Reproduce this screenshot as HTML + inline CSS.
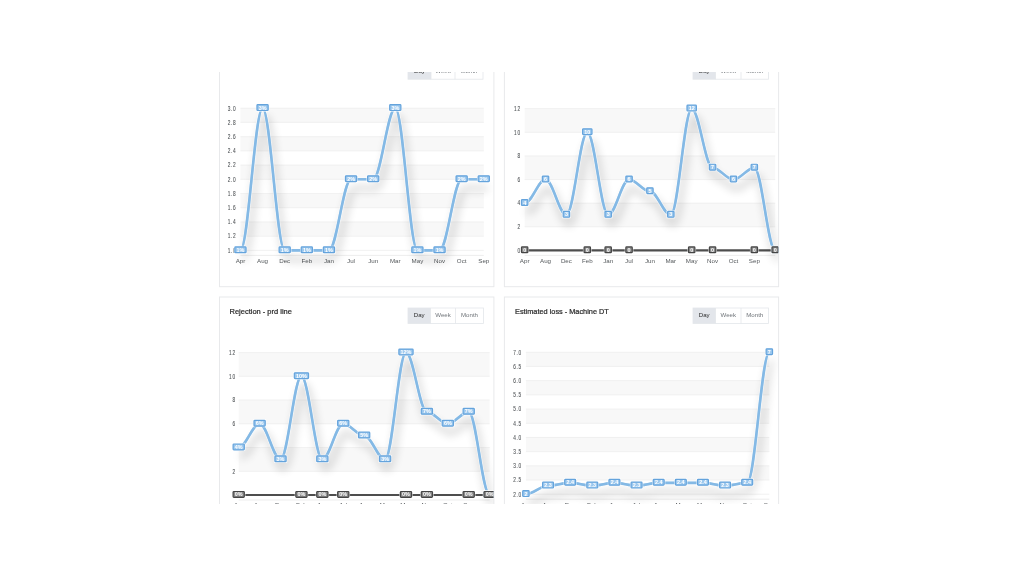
<!DOCTYPE html>
<html><head><meta charset="utf-8"><title>Dashboard charts</title>
<style>
html,body{margin:0;padding:0;background:#fff;width:1024px;height:577px;overflow:hidden}
body{font-family:"Liberation Sans",sans-serif}
svg{position:absolute;left:0;top:0;display:block;filter:blur(0.65px)}
text{font-family:"Liberation Sans",sans-serif}
.yl{font-size:6.6px;letter-spacing:0.9px;fill:#505457;stroke:#505457;stroke-width:0.1px;text-anchor:end}
.xl{font-size:6.2px;fill:#55595c;text-anchor:middle}
.dl{font-size:5.4px;font-weight:bold;fill:#fff;text-anchor:middle}
.bt{font-size:6.1px;text-anchor:middle}
.tt{font-size:7.5px;fill:#2b2b2b;stroke:#2b2b2b;stroke-width:0.22px}
</style></head><body>
<svg width="1024" height="577" viewBox="0 0 1024 577">
<defs>
<clipPath id="clip"><rect x="0" y="72" width="1024" height="432"/></clipPath>
<clipPath id="cL"><rect x="220" y="0" width="273.5" height="577"/></clipPath>
<clipPath id="cR"><rect x="505" y="0" width="273.3" height="577"/></clipPath>
<filter id="sh" filterUnits="userSpaceOnUse" x="0" y="0" width="1024" height="577">
<feGaussianBlur in="SourceAlpha" stdDeviation="5"/>
<feOffset dx="3" dy="9" result="o"/>
<feComponentTransfer><feFuncA type="linear" slope="0.38"/></feComponentTransfer>
<feMerge><feMergeNode/><feMergeNode in="SourceGraphic"/></feMerge>
</filter>
</defs>
<g clip-path="url(#clip)">
<rect x="219.5" y="40.5" width="274.4" height="246.2" fill="#fff" stroke="#e8e9eb" stroke-width="1"/>
<rect x="504.4" y="40.5" width="274.2" height="246.2" fill="#fff" stroke="#e8e9eb" stroke-width="1"/>
<rect x="219.5" y="297.0" width="274.4" height="260.0" fill="#fff" stroke="#e8e9eb" stroke-width="1"/>
<rect x="504.4" y="297.0" width="274.2" height="260.0" fill="#fff" stroke="#e8e9eb" stroke-width="1"/>
<rect x="408.00" y="64.40" width="23.00" height="14.80" fill="#e3e6eb"/>
<rect x="408.00" y="64.40" width="75.00" height="14.80" fill="none" stroke="#e3e6ea" stroke-width="0.8"/>
<line x1="431.00" y1="64.40" x2="431.00" y2="79.20" stroke="#e3e6ea" stroke-width="0.8"/>
<line x1="455.00" y1="64.40" x2="455.00" y2="79.20" stroke="#e3e6ea" stroke-width="0.8"/>
<text x="419.50" y="72.90" class="bt" fill="#2a2a2a">Day</text>
<text x="443.00" y="72.90" class="bt" fill="#70757a">Week</text>
<text x="469.00" y="72.90" class="bt" fill="#70757a">Month</text>
<rect x="693.00" y="64.40" width="22.50" height="14.80" fill="#e3e6eb"/>
<rect x="693.00" y="64.40" width="75.50" height="14.80" fill="none" stroke="#e3e6ea" stroke-width="0.8"/>
<line x1="715.50" y1="64.40" x2="715.50" y2="79.20" stroke="#e3e6ea" stroke-width="0.8"/>
<line x1="741.00" y1="64.40" x2="741.00" y2="79.20" stroke="#e3e6ea" stroke-width="0.8"/>
<text x="704.25" y="72.90" class="bt" fill="#2a2a2a">Day</text>
<text x="728.25" y="72.90" class="bt" fill="#70757a">Week</text>
<text x="754.75" y="72.90" class="bt" fill="#70757a">Month</text>
<rect x="408.00" y="308.00" width="22.50" height="15.50" fill="#e3e6eb"/>
<rect x="408.00" y="308.00" width="75.50" height="15.50" fill="none" stroke="#e3e6ea" stroke-width="0.8"/>
<line x1="430.50" y1="308.00" x2="430.50" y2="323.50" stroke="#e3e6ea" stroke-width="0.8"/>
<line x1="455.50" y1="308.00" x2="455.50" y2="323.50" stroke="#e3e6ea" stroke-width="0.8"/>
<text x="419.25" y="316.85" class="bt" fill="#2a2a2a">Day</text>
<text x="443.00" y="316.85" class="bt" fill="#70757a">Week</text>
<text x="469.50" y="316.85" class="bt" fill="#70757a">Month</text>
<rect x="693.00" y="308.00" width="22.50" height="15.50" fill="#e3e6eb"/>
<rect x="693.00" y="308.00" width="75.50" height="15.50" fill="none" stroke="#e3e6ea" stroke-width="0.8"/>
<line x1="715.50" y1="308.00" x2="715.50" y2="323.50" stroke="#e3e6ea" stroke-width="0.8"/>
<line x1="741.00" y1="308.00" x2="741.00" y2="323.50" stroke="#e3e6ea" stroke-width="0.8"/>
<text x="704.25" y="316.85" class="bt" fill="#2a2a2a">Day</text>
<text x="728.25" y="316.85" class="bt" fill="#70757a">Week</text>
<text x="754.75" y="316.85" class="bt" fill="#70757a">Month</text>
<text x="229.5" y="313.9" class="tt" textLength="62.4" lengthAdjust="spacingAndGlyphs">Rejection - prd line</text>
<text x="515" y="314.2" class="tt" textLength="93.8" lengthAdjust="spacingAndGlyphs">Estimated loss - Machine DT</text>
<g clip-path="url(#cL)">
<rect x="240.45" y="108.20" width="243.32" height="14.22" fill="#f8f8f8"/>
<rect x="240.45" y="136.64" width="243.32" height="14.22" fill="#f8f8f8"/>
<rect x="240.45" y="165.08" width="243.32" height="14.22" fill="#f8f8f8"/>
<rect x="240.45" y="193.52" width="243.32" height="14.22" fill="#f8f8f8"/>
<rect x="240.45" y="221.96" width="243.32" height="14.22" fill="#f8f8f8"/>
<line x1="240.45" y1="108.20" x2="483.77" y2="108.20" stroke="#eeeeee" stroke-width="0.8"/>
<line x1="240.45" y1="122.42" x2="483.77" y2="122.42" stroke="#eeeeee" stroke-width="0.8"/>
<line x1="240.45" y1="136.64" x2="483.77" y2="136.64" stroke="#eeeeee" stroke-width="0.8"/>
<line x1="240.45" y1="150.86" x2="483.77" y2="150.86" stroke="#eeeeee" stroke-width="0.8"/>
<line x1="240.45" y1="165.08" x2="483.77" y2="165.08" stroke="#eeeeee" stroke-width="0.8"/>
<line x1="240.45" y1="179.30" x2="483.77" y2="179.30" stroke="#eeeeee" stroke-width="0.8"/>
<line x1="240.45" y1="193.52" x2="483.77" y2="193.52" stroke="#eeeeee" stroke-width="0.8"/>
<line x1="240.45" y1="207.74" x2="483.77" y2="207.74" stroke="#eeeeee" stroke-width="0.8"/>
<line x1="240.45" y1="221.96" x2="483.77" y2="221.96" stroke="#eeeeee" stroke-width="0.8"/>
<line x1="240.45" y1="236.18" x2="483.77" y2="236.18" stroke="#eeeeee" stroke-width="0.8"/>
<line x1="240.45" y1="250.40" x2="483.77" y2="250.40" stroke="#eeeeee" stroke-width="0.8"/>
<text transform="translate(236.30 110.50) scale(0.72 1)" class="yl">3.0</text>
<text transform="translate(236.30 124.72) scale(0.72 1)" class="yl">2.8</text>
<text transform="translate(236.30 138.94) scale(0.72 1)" class="yl">2.6</text>
<text transform="translate(236.30 153.16) scale(0.72 1)" class="yl">2.4</text>
<text transform="translate(236.30 167.38) scale(0.72 1)" class="yl">2.2</text>
<text transform="translate(236.30 181.60) scale(0.72 1)" class="yl">2.0</text>
<text transform="translate(236.30 195.82) scale(0.72 1)" class="yl">1.8</text>
<text transform="translate(236.30 210.04) scale(0.72 1)" class="yl">1.6</text>
<text transform="translate(236.30 224.26) scale(0.72 1)" class="yl">1.4</text>
<text transform="translate(236.30 238.48) scale(0.72 1)" class="yl">1.2</text>
<text transform="translate(236.30 252.70) scale(0.72 1)" class="yl">1.0</text>
<text x="240.45" y="263.00" class="xl">Apr</text>
<text x="262.57" y="263.00" class="xl">Aug</text>
<text x="284.69" y="263.00" class="xl">Dec</text>
<text x="306.81" y="263.00" class="xl">Feb</text>
<text x="328.93" y="263.00" class="xl">Jan</text>
<text x="351.05" y="263.00" class="xl">Jul</text>
<text x="373.17" y="263.00" class="xl">Jun</text>
<text x="395.29" y="263.00" class="xl">Mar</text>
<text x="417.41" y="263.00" class="xl">May</text>
<text x="439.53" y="263.00" class="xl">Nov</text>
<text x="461.65" y="263.00" class="xl">Oct</text>
<text x="483.77" y="263.00" class="xl">Sep</text>
<path d="M240.45 255.40 H483.77" stroke="#e8e8e8" stroke-width="0.8" fill="none"/>
<g filter="url(#sh)"><path d="M240.45 250.40 C248.19 250.40 254.83 108.20 262.57 108.20 C270.31 108.20 276.95 250.40 284.69 250.40 C292.43 250.40 299.07 250.40 306.81 250.40 C314.55 250.40 321.19 250.40 328.93 250.40 C336.67 250.40 343.31 179.30 351.05 179.30 C358.79 179.30 365.43 179.30 373.17 179.30 C380.91 179.30 387.55 108.20 395.29 108.20 C403.03 108.20 409.67 250.40 417.41 250.40 C425.15 250.40 431.79 250.40 439.53 250.40 C447.27 250.40 453.91 179.30 461.65 179.30 C469.39 179.30 476.03 179.30 483.77 179.30" stroke="#84b9e5" stroke-width="2.3" fill="none" stroke-linecap="round"/></g>
<path d="M240.45 250.40 C248.19 250.40 254.83 108.20 262.57 108.20 C270.31 108.20 276.95 250.40 284.69 250.40 C292.43 250.40 299.07 250.40 306.81 250.40 C314.55 250.40 321.19 250.40 328.93 250.40 C336.67 250.40 343.31 179.30 351.05 179.30 C358.79 179.30 365.43 179.30 373.17 179.30 C380.91 179.30 387.55 108.20 395.29 108.20 C403.03 108.20 409.67 250.40 417.41 250.40 C425.15 250.40 431.79 250.40 439.53 250.40 C447.27 250.40 453.91 179.30 461.65 179.30 C469.39 179.30 476.03 179.30 483.77 179.30" stroke="#fff" stroke-opacity="0.5" stroke-width="4.2" fill="none" stroke-linecap="round"/>
<path d="M240.45 250.40 C248.19 250.40 254.83 108.20 262.57 108.20 C270.31 108.20 276.95 250.40 284.69 250.40 C292.43 250.40 299.07 250.40 306.81 250.40 C314.55 250.40 321.19 250.40 328.93 250.40 C336.67 250.40 343.31 179.30 351.05 179.30 C358.79 179.30 365.43 179.30 373.17 179.30 C380.91 179.30 387.55 108.20 395.29 108.20 C403.03 108.20 409.67 250.40 417.41 250.40 C425.15 250.40 431.79 250.40 439.53 250.40 C447.27 250.40 453.91 179.30 461.65 179.30 C469.39 179.30 476.03 179.30 483.77 179.30" stroke="#84b9e5" stroke-width="2.6" fill="none" stroke-linecap="round"/>
<rect x="233.65" y="245.70" width="13.60" height="8.20" rx="1" fill="#fff" fill-opacity="0.7"/>
<rect x="234.85" y="246.90" width="11.20" height="5.80" rx="0.8" fill="#9cc8ee" stroke="#64a3dc" stroke-width="1.2"/>
<text x="240.45" y="251.75" class="dl">1%</text>
<rect x="255.77" y="103.50" width="13.60" height="8.20" rx="1" fill="#fff" fill-opacity="0.7"/>
<rect x="256.97" y="104.70" width="11.20" height="5.80" rx="0.8" fill="#9cc8ee" stroke="#64a3dc" stroke-width="1.2"/>
<text x="262.57" y="109.55" class="dl">3%</text>
<rect x="277.89" y="245.70" width="13.60" height="8.20" rx="1" fill="#fff" fill-opacity="0.7"/>
<rect x="279.09" y="246.90" width="11.20" height="5.80" rx="0.8" fill="#9cc8ee" stroke="#64a3dc" stroke-width="1.2"/>
<text x="284.69" y="251.75" class="dl">1%</text>
<rect x="300.01" y="245.70" width="13.60" height="8.20" rx="1" fill="#fff" fill-opacity="0.7"/>
<rect x="301.21" y="246.90" width="11.20" height="5.80" rx="0.8" fill="#9cc8ee" stroke="#64a3dc" stroke-width="1.2"/>
<text x="306.81" y="251.75" class="dl">1%</text>
<rect x="322.13" y="245.70" width="13.60" height="8.20" rx="1" fill="#fff" fill-opacity="0.7"/>
<rect x="323.33" y="246.90" width="11.20" height="5.80" rx="0.8" fill="#9cc8ee" stroke="#64a3dc" stroke-width="1.2"/>
<text x="328.93" y="251.75" class="dl">1%</text>
<rect x="344.25" y="174.60" width="13.60" height="8.20" rx="1" fill="#fff" fill-opacity="0.7"/>
<rect x="345.45" y="175.80" width="11.20" height="5.80" rx="0.8" fill="#9cc8ee" stroke="#64a3dc" stroke-width="1.2"/>
<text x="351.05" y="180.65" class="dl">2%</text>
<rect x="366.37" y="174.60" width="13.60" height="8.20" rx="1" fill="#fff" fill-opacity="0.7"/>
<rect x="367.57" y="175.80" width="11.20" height="5.80" rx="0.8" fill="#9cc8ee" stroke="#64a3dc" stroke-width="1.2"/>
<text x="373.17" y="180.65" class="dl">2%</text>
<rect x="388.49" y="103.50" width="13.60" height="8.20" rx="1" fill="#fff" fill-opacity="0.7"/>
<rect x="389.69" y="104.70" width="11.20" height="5.80" rx="0.8" fill="#9cc8ee" stroke="#64a3dc" stroke-width="1.2"/>
<text x="395.29" y="109.55" class="dl">3%</text>
<rect x="410.61" y="245.70" width="13.60" height="8.20" rx="1" fill="#fff" fill-opacity="0.7"/>
<rect x="411.81" y="246.90" width="11.20" height="5.80" rx="0.8" fill="#9cc8ee" stroke="#64a3dc" stroke-width="1.2"/>
<text x="417.41" y="251.75" class="dl">1%</text>
<rect x="432.73" y="245.70" width="13.60" height="8.20" rx="1" fill="#fff" fill-opacity="0.7"/>
<rect x="433.93" y="246.90" width="11.20" height="5.80" rx="0.8" fill="#9cc8ee" stroke="#64a3dc" stroke-width="1.2"/>
<text x="439.53" y="251.75" class="dl">1%</text>
<rect x="454.85" y="174.60" width="13.60" height="8.20" rx="1" fill="#fff" fill-opacity="0.7"/>
<rect x="456.05" y="175.80" width="11.20" height="5.80" rx="0.8" fill="#9cc8ee" stroke="#64a3dc" stroke-width="1.2"/>
<text x="461.65" y="180.65" class="dl">2%</text>
<rect x="476.97" y="174.60" width="13.60" height="8.20" rx="1" fill="#fff" fill-opacity="0.7"/>
<rect x="478.17" y="175.80" width="11.20" height="5.80" rx="0.8" fill="#9cc8ee" stroke="#64a3dc" stroke-width="1.2"/>
<text x="483.77" y="180.65" class="dl">2%</text>
</g><g clip-path="url(#cR)">
<rect x="524.65" y="108.68" width="250.56" height="23.62" fill="#f8f8f8"/>
<rect x="524.65" y="155.92" width="250.56" height="23.62" fill="#f8f8f8"/>
<rect x="524.65" y="203.16" width="250.56" height="23.62" fill="#f8f8f8"/>
<line x1="524.65" y1="108.68" x2="775.21" y2="108.68" stroke="#eeeeee" stroke-width="0.8"/>
<line x1="524.65" y1="132.30" x2="775.21" y2="132.30" stroke="#eeeeee" stroke-width="0.8"/>
<line x1="524.65" y1="155.92" x2="775.21" y2="155.92" stroke="#eeeeee" stroke-width="0.8"/>
<line x1="524.65" y1="179.54" x2="775.21" y2="179.54" stroke="#eeeeee" stroke-width="0.8"/>
<line x1="524.65" y1="203.16" x2="775.21" y2="203.16" stroke="#eeeeee" stroke-width="0.8"/>
<line x1="524.65" y1="226.78" x2="775.21" y2="226.78" stroke="#eeeeee" stroke-width="0.8"/>
<line x1="524.65" y1="250.40" x2="775.21" y2="250.40" stroke="#eeeeee" stroke-width="0.8"/>
<text transform="translate(520.70 110.98) scale(0.72 1)" class="yl">12</text>
<text transform="translate(520.70 134.60) scale(0.72 1)" class="yl">10</text>
<text transform="translate(520.70 158.22) scale(0.72 1)" class="yl">8</text>
<text transform="translate(520.70 181.84) scale(0.72 1)" class="yl">6</text>
<text transform="translate(520.70 205.46) scale(0.72 1)" class="yl">4</text>
<text transform="translate(520.70 229.08) scale(0.72 1)" class="yl">2</text>
<text transform="translate(520.70 252.70) scale(0.72 1)" class="yl">0</text>
<text x="524.65" y="263.20" class="xl">Apr</text>
<text x="545.53" y="263.20" class="xl">Aug</text>
<text x="566.41" y="263.20" class="xl">Dec</text>
<text x="587.29" y="263.20" class="xl">Feb</text>
<text x="608.17" y="263.20" class="xl">Jan</text>
<text x="629.05" y="263.20" class="xl">Jul</text>
<text x="649.93" y="263.20" class="xl">Jun</text>
<text x="670.81" y="263.20" class="xl">Mar</text>
<text x="691.69" y="263.20" class="xl">May</text>
<text x="712.57" y="263.20" class="xl">Nov</text>
<text x="733.45" y="263.20" class="xl">Oct</text>
<text x="754.33" y="263.20" class="xl">Sep</text>
<path d="M524.65 255.40 H775.21" stroke="#e8e8e8" stroke-width="0.8" fill="none"/>
<path d="M524.65 250.40 H775.21" stroke="#4e4e4e" stroke-width="2.2" fill="none"/>
<g filter="url(#sh)"><path d="M524.65 203.16 C531.96 203.16 538.22 179.54 545.53 179.54 C552.84 179.54 559.10 214.97 566.41 214.97 C573.72 214.97 579.98 132.30 587.29 132.30 C594.60 132.30 600.86 214.97 608.17 214.97 C615.48 214.97 621.74 179.54 629.05 179.54 C636.36 179.54 642.62 191.35 649.93 191.35 C657.24 191.35 663.50 214.97 670.81 214.97 C678.12 214.97 684.38 108.68 691.69 108.68 C699.00 108.68 705.26 167.73 712.57 167.73 C719.88 167.73 726.14 179.54 733.45 179.54 C740.76 179.54 747.02 167.73 754.33 167.73 C761.64 167.73 767.90 250.40 775.21 250.40" stroke="#84b9e5" stroke-width="2.3" fill="none" stroke-linecap="round"/></g>
<path d="M524.65 203.16 C531.96 203.16 538.22 179.54 545.53 179.54 C552.84 179.54 559.10 214.97 566.41 214.97 C573.72 214.97 579.98 132.30 587.29 132.30 C594.60 132.30 600.86 214.97 608.17 214.97 C615.48 214.97 621.74 179.54 629.05 179.54 C636.36 179.54 642.62 191.35 649.93 191.35 C657.24 191.35 663.50 214.97 670.81 214.97 C678.12 214.97 684.38 108.68 691.69 108.68 C699.00 108.68 705.26 167.73 712.57 167.73 C719.88 167.73 726.14 179.54 733.45 179.54 C740.76 179.54 747.02 167.73 754.33 167.73 C761.64 167.73 767.90 250.40 775.21 250.40" stroke="#fff" stroke-opacity="0.5" stroke-width="4.2" fill="none" stroke-linecap="round"/>
<path d="M524.65 203.16 C531.96 203.16 538.22 179.54 545.53 179.54 C552.84 179.54 559.10 214.97 566.41 214.97 C573.72 214.97 579.98 132.30 587.29 132.30 C594.60 132.30 600.86 214.97 608.17 214.97 C615.48 214.97 621.74 179.54 629.05 179.54 C636.36 179.54 642.62 191.35 649.93 191.35 C657.24 191.35 663.50 214.97 670.81 214.97 C678.12 214.97 684.38 108.68 691.69 108.68 C699.00 108.68 705.26 167.73 712.57 167.73 C719.88 167.73 726.14 179.54 733.45 179.54 C740.76 179.54 747.02 167.73 754.33 167.73 C761.64 167.73 767.90 250.40 775.21 250.40" stroke="#84b9e5" stroke-width="2.6" fill="none" stroke-linecap="round"/>
<rect x="520.25" y="198.46" width="8.80" height="8.20" rx="1" fill="#fff" fill-opacity="0.7"/>
<rect x="521.45" y="199.66" width="6.40" height="5.80" rx="0.8" fill="#9cc8ee" stroke="#64a3dc" stroke-width="1.2"/>
<text x="524.65" y="204.51" class="dl">4</text>
<rect x="541.13" y="174.84" width="8.80" height="8.20" rx="1" fill="#fff" fill-opacity="0.7"/>
<rect x="542.33" y="176.04" width="6.40" height="5.80" rx="0.8" fill="#9cc8ee" stroke="#64a3dc" stroke-width="1.2"/>
<text x="545.53" y="180.89" class="dl">6</text>
<rect x="562.01" y="210.27" width="8.80" height="8.20" rx="1" fill="#fff" fill-opacity="0.7"/>
<rect x="563.21" y="211.47" width="6.40" height="5.80" rx="0.8" fill="#9cc8ee" stroke="#64a3dc" stroke-width="1.2"/>
<text x="566.41" y="216.32" class="dl">3</text>
<rect x="581.39" y="127.60" width="11.81" height="8.20" rx="1" fill="#fff" fill-opacity="0.7"/>
<rect x="582.59" y="128.80" width="9.41" height="5.80" rx="0.8" fill="#9cc8ee" stroke="#64a3dc" stroke-width="1.2"/>
<text x="587.29" y="133.65" class="dl">10</text>
<rect x="603.77" y="210.27" width="8.80" height="8.20" rx="1" fill="#fff" fill-opacity="0.7"/>
<rect x="604.97" y="211.47" width="6.40" height="5.80" rx="0.8" fill="#9cc8ee" stroke="#64a3dc" stroke-width="1.2"/>
<text x="608.17" y="216.32" class="dl">3</text>
<rect x="624.65" y="174.84" width="8.80" height="8.20" rx="1" fill="#fff" fill-opacity="0.7"/>
<rect x="625.85" y="176.04" width="6.40" height="5.80" rx="0.8" fill="#9cc8ee" stroke="#64a3dc" stroke-width="1.2"/>
<text x="629.05" y="180.89" class="dl">6</text>
<rect x="645.53" y="186.65" width="8.80" height="8.20" rx="1" fill="#fff" fill-opacity="0.7"/>
<rect x="646.73" y="187.85" width="6.40" height="5.80" rx="0.8" fill="#9cc8ee" stroke="#64a3dc" stroke-width="1.2"/>
<text x="649.93" y="192.70" class="dl">5</text>
<rect x="666.41" y="210.27" width="8.80" height="8.20" rx="1" fill="#fff" fill-opacity="0.7"/>
<rect x="667.61" y="211.47" width="6.40" height="5.80" rx="0.8" fill="#9cc8ee" stroke="#64a3dc" stroke-width="1.2"/>
<text x="670.81" y="216.32" class="dl">3</text>
<rect x="685.79" y="103.98" width="11.81" height="8.20" rx="1" fill="#fff" fill-opacity="0.7"/>
<rect x="686.99" y="105.18" width="9.41" height="5.80" rx="0.8" fill="#9cc8ee" stroke="#64a3dc" stroke-width="1.2"/>
<text x="691.69" y="110.03" class="dl">12</text>
<rect x="708.17" y="163.03" width="8.80" height="8.20" rx="1" fill="#fff" fill-opacity="0.7"/>
<rect x="709.37" y="164.23" width="6.40" height="5.80" rx="0.8" fill="#9cc8ee" stroke="#64a3dc" stroke-width="1.2"/>
<text x="712.57" y="169.08" class="dl">7</text>
<rect x="729.05" y="174.84" width="8.80" height="8.20" rx="1" fill="#fff" fill-opacity="0.7"/>
<rect x="730.25" y="176.04" width="6.40" height="5.80" rx="0.8" fill="#9cc8ee" stroke="#64a3dc" stroke-width="1.2"/>
<text x="733.45" y="180.89" class="dl">6</text>
<rect x="749.93" y="163.03" width="8.80" height="8.20" rx="1" fill="#fff" fill-opacity="0.7"/>
<rect x="751.13" y="164.23" width="6.40" height="5.80" rx="0.8" fill="#9cc8ee" stroke="#64a3dc" stroke-width="1.2"/>
<text x="754.33" y="169.08" class="dl">7</text>
<rect x="770.81" y="245.70" width="8.80" height="8.20" rx="1" fill="#fff" fill-opacity="0.7"/>
<rect x="772.01" y="246.90" width="6.40" height="5.80" rx="0.8" fill="#9cc8ee" stroke="#64a3dc" stroke-width="1.2"/>
<text x="775.21" y="251.75" class="dl">0</text>
<rect x="520.25" y="245.70" width="8.80" height="8.20" rx="1" fill="#fff" fill-opacity="0.7"/>
<rect x="521.45" y="246.90" width="6.40" height="5.80" rx="0.8" fill="#8a8a8a" stroke="#454545" stroke-width="1.2"/>
<text x="524.65" y="251.75" class="dl">0</text>
<rect x="582.89" y="245.70" width="8.80" height="8.20" rx="1" fill="#fff" fill-opacity="0.7"/>
<rect x="584.09" y="246.90" width="6.40" height="5.80" rx="0.8" fill="#8a8a8a" stroke="#454545" stroke-width="1.2"/>
<text x="587.29" y="251.75" class="dl">0</text>
<rect x="603.77" y="245.70" width="8.80" height="8.20" rx="1" fill="#fff" fill-opacity="0.7"/>
<rect x="604.97" y="246.90" width="6.40" height="5.80" rx="0.8" fill="#8a8a8a" stroke="#454545" stroke-width="1.2"/>
<text x="608.17" y="251.75" class="dl">0</text>
<rect x="624.65" y="245.70" width="8.80" height="8.20" rx="1" fill="#fff" fill-opacity="0.7"/>
<rect x="625.85" y="246.90" width="6.40" height="5.80" rx="0.8" fill="#8a8a8a" stroke="#454545" stroke-width="1.2"/>
<text x="629.05" y="251.75" class="dl">0</text>
<rect x="687.29" y="245.70" width="8.80" height="8.20" rx="1" fill="#fff" fill-opacity="0.7"/>
<rect x="688.49" y="246.90" width="6.40" height="5.80" rx="0.8" fill="#8a8a8a" stroke="#454545" stroke-width="1.2"/>
<text x="691.69" y="251.75" class="dl">0</text>
<rect x="708.17" y="245.70" width="8.80" height="8.20" rx="1" fill="#fff" fill-opacity="0.7"/>
<rect x="709.37" y="246.90" width="6.40" height="5.80" rx="0.8" fill="#8a8a8a" stroke="#454545" stroke-width="1.2"/>
<text x="712.57" y="251.75" class="dl">0</text>
<rect x="749.93" y="245.70" width="8.80" height="8.20" rx="1" fill="#fff" fill-opacity="0.7"/>
<rect x="751.13" y="246.90" width="6.40" height="5.80" rx="0.8" fill="#8a8a8a" stroke="#454545" stroke-width="1.2"/>
<text x="754.33" y="251.75" class="dl">0</text>
<rect x="770.81" y="245.70" width="8.80" height="8.20" rx="1" fill="#fff" fill-opacity="0.7"/>
<rect x="772.01" y="246.90" width="6.40" height="5.80" rx="0.8" fill="#8a8a8a" stroke="#454545" stroke-width="1.2"/>
<text x="775.21" y="251.75" class="dl">0</text>
</g><g clip-path="url(#cL)">
<rect x="238.70" y="352.56" width="250.92" height="23.74" fill="#f8f8f8"/>
<rect x="238.70" y="400.04" width="250.92" height="23.74" fill="#f8f8f8"/>
<rect x="238.70" y="447.52" width="250.92" height="23.74" fill="#f8f8f8"/>
<line x1="238.70" y1="352.56" x2="489.62" y2="352.56" stroke="#eeeeee" stroke-width="0.8"/>
<line x1="238.70" y1="376.30" x2="489.62" y2="376.30" stroke="#eeeeee" stroke-width="0.8"/>
<line x1="238.70" y1="400.04" x2="489.62" y2="400.04" stroke="#eeeeee" stroke-width="0.8"/>
<line x1="238.70" y1="423.78" x2="489.62" y2="423.78" stroke="#eeeeee" stroke-width="0.8"/>
<line x1="238.70" y1="447.52" x2="489.62" y2="447.52" stroke="#eeeeee" stroke-width="0.8"/>
<line x1="238.70" y1="471.26" x2="489.62" y2="471.26" stroke="#eeeeee" stroke-width="0.8"/>
<line x1="238.70" y1="495.00" x2="489.62" y2="495.00" stroke="#eeeeee" stroke-width="0.8"/>
<text transform="translate(235.70 354.86) scale(0.72 1)" class="yl">12</text>
<text transform="translate(235.70 378.60) scale(0.72 1)" class="yl">10</text>
<text transform="translate(235.70 402.34) scale(0.72 1)" class="yl">8</text>
<text transform="translate(235.70 426.08) scale(0.72 1)" class="yl">6</text>
<text transform="translate(235.70 473.56) scale(0.72 1)" class="yl">2</text>
<text x="238.70" y="506.80" class="xl">Apr</text>
<text x="259.61" y="506.80" class="xl">Aug</text>
<text x="280.52" y="506.80" class="xl">Dec</text>
<text x="301.43" y="506.80" class="xl">Feb</text>
<text x="322.34" y="506.80" class="xl">Jan</text>
<text x="343.25" y="506.80" class="xl">Jul</text>
<text x="364.16" y="506.80" class="xl">Jun</text>
<text x="385.07" y="506.80" class="xl">Mar</text>
<text x="405.98" y="506.80" class="xl">May</text>
<text x="426.89" y="506.80" class="xl">Nov</text>
<text x="447.80" y="506.80" class="xl">Oct</text>
<text x="468.71" y="506.80" class="xl">Sep</text>
<path d="M238.70 500.00 H489.62" stroke="#e8e8e8" stroke-width="0.8" fill="none"/>
<path d="M238.70 495.00 H489.62" stroke="#4e4e4e" stroke-width="2.2" fill="none"/>
<g filter="url(#sh)"><path d="M238.70 447.52 C246.02 447.52 252.29 423.78 259.61 423.78 C266.93 423.78 273.20 459.39 280.52 459.39 C287.84 459.39 294.11 376.30 301.43 376.30 C308.75 376.30 315.02 459.39 322.34 459.39 C329.66 459.39 335.93 423.78 343.25 423.78 C350.57 423.78 356.84 435.65 364.16 435.65 C371.48 435.65 377.75 459.39 385.07 459.39 C392.39 459.39 398.66 352.56 405.98 352.56 C413.30 352.56 419.57 411.91 426.89 411.91 C434.21 411.91 440.48 423.78 447.80 423.78 C455.12 423.78 461.39 411.91 468.71 411.91 C476.03 411.91 482.30 495.00 489.62 495.00" stroke="#84b9e5" stroke-width="2.3" fill="none" stroke-linecap="round"/></g>
<path d="M238.70 447.52 C246.02 447.52 252.29 423.78 259.61 423.78 C266.93 423.78 273.20 459.39 280.52 459.39 C287.84 459.39 294.11 376.30 301.43 376.30 C308.75 376.30 315.02 459.39 322.34 459.39 C329.66 459.39 335.93 423.78 343.25 423.78 C350.57 423.78 356.84 435.65 364.16 435.65 C371.48 435.65 377.75 459.39 385.07 459.39 C392.39 459.39 398.66 352.56 405.98 352.56 C413.30 352.56 419.57 411.91 426.89 411.91 C434.21 411.91 440.48 423.78 447.80 423.78 C455.12 423.78 461.39 411.91 468.71 411.91 C476.03 411.91 482.30 495.00 489.62 495.00" stroke="#fff" stroke-opacity="0.5" stroke-width="4.2" fill="none" stroke-linecap="round"/>
<path d="M238.70 447.52 C246.02 447.52 252.29 423.78 259.61 423.78 C266.93 423.78 273.20 459.39 280.52 459.39 C287.84 459.39 294.11 376.30 301.43 376.30 C308.75 376.30 315.02 459.39 322.34 459.39 C329.66 459.39 335.93 423.78 343.25 423.78 C350.57 423.78 356.84 435.65 364.16 435.65 C371.48 435.65 377.75 459.39 385.07 459.39 C392.39 459.39 398.66 352.56 405.98 352.56 C413.30 352.56 419.57 411.91 426.89 411.91 C434.21 411.91 440.48 423.78 447.80 423.78 C455.12 423.78 461.39 411.91 468.71 411.91 C476.03 411.91 482.30 495.00 489.62 495.00" stroke="#84b9e5" stroke-width="2.6" fill="none" stroke-linecap="round"/>
<rect x="231.90" y="442.82" width="13.60" height="8.20" rx="1" fill="#fff" fill-opacity="0.7"/>
<rect x="233.10" y="444.02" width="11.20" height="5.80" rx="0.8" fill="#9cc8ee" stroke="#64a3dc" stroke-width="1.2"/>
<text x="238.70" y="448.87" class="dl">4%</text>
<rect x="252.81" y="419.08" width="13.60" height="8.20" rx="1" fill="#fff" fill-opacity="0.7"/>
<rect x="254.01" y="420.28" width="11.20" height="5.80" rx="0.8" fill="#9cc8ee" stroke="#64a3dc" stroke-width="1.2"/>
<text x="259.61" y="425.13" class="dl">6%</text>
<rect x="273.72" y="454.69" width="13.60" height="8.20" rx="1" fill="#fff" fill-opacity="0.7"/>
<rect x="274.92" y="455.89" width="11.20" height="5.80" rx="0.8" fill="#9cc8ee" stroke="#64a3dc" stroke-width="1.2"/>
<text x="280.52" y="460.74" class="dl">3%</text>
<rect x="293.13" y="371.60" width="16.61" height="8.20" rx="1" fill="#fff" fill-opacity="0.7"/>
<rect x="294.33" y="372.80" width="14.21" height="5.80" rx="0.8" fill="#9cc8ee" stroke="#64a3dc" stroke-width="1.2"/>
<text x="301.43" y="377.65" class="dl">10%</text>
<rect x="315.54" y="454.69" width="13.60" height="8.20" rx="1" fill="#fff" fill-opacity="0.7"/>
<rect x="316.74" y="455.89" width="11.20" height="5.80" rx="0.8" fill="#9cc8ee" stroke="#64a3dc" stroke-width="1.2"/>
<text x="322.34" y="460.74" class="dl">3%</text>
<rect x="336.45" y="419.08" width="13.60" height="8.20" rx="1" fill="#fff" fill-opacity="0.7"/>
<rect x="337.65" y="420.28" width="11.20" height="5.80" rx="0.8" fill="#9cc8ee" stroke="#64a3dc" stroke-width="1.2"/>
<text x="343.25" y="425.13" class="dl">6%</text>
<rect x="357.36" y="430.95" width="13.60" height="8.20" rx="1" fill="#fff" fill-opacity="0.7"/>
<rect x="358.56" y="432.15" width="11.20" height="5.80" rx="0.8" fill="#9cc8ee" stroke="#64a3dc" stroke-width="1.2"/>
<text x="364.16" y="437.00" class="dl">5%</text>
<rect x="378.27" y="454.69" width="13.60" height="8.20" rx="1" fill="#fff" fill-opacity="0.7"/>
<rect x="379.47" y="455.89" width="11.20" height="5.80" rx="0.8" fill="#9cc8ee" stroke="#64a3dc" stroke-width="1.2"/>
<text x="385.07" y="460.74" class="dl">3%</text>
<rect x="397.68" y="347.86" width="16.61" height="8.20" rx="1" fill="#fff" fill-opacity="0.7"/>
<rect x="398.88" y="349.06" width="14.21" height="5.80" rx="0.8" fill="#9cc8ee" stroke="#64a3dc" stroke-width="1.2"/>
<text x="405.98" y="353.91" class="dl">12%</text>
<rect x="420.09" y="407.21" width="13.60" height="8.20" rx="1" fill="#fff" fill-opacity="0.7"/>
<rect x="421.29" y="408.41" width="11.20" height="5.80" rx="0.8" fill="#9cc8ee" stroke="#64a3dc" stroke-width="1.2"/>
<text x="426.89" y="413.26" class="dl">7%</text>
<rect x="441.00" y="419.08" width="13.60" height="8.20" rx="1" fill="#fff" fill-opacity="0.7"/>
<rect x="442.20" y="420.28" width="11.20" height="5.80" rx="0.8" fill="#9cc8ee" stroke="#64a3dc" stroke-width="1.2"/>
<text x="447.80" y="425.13" class="dl">6%</text>
<rect x="461.91" y="407.21" width="13.60" height="8.20" rx="1" fill="#fff" fill-opacity="0.7"/>
<rect x="463.11" y="408.41" width="11.20" height="5.80" rx="0.8" fill="#9cc8ee" stroke="#64a3dc" stroke-width="1.2"/>
<text x="468.71" y="413.26" class="dl">7%</text>
<rect x="482.82" y="490.30" width="13.60" height="8.20" rx="1" fill="#fff" fill-opacity="0.7"/>
<rect x="484.02" y="491.50" width="11.20" height="5.80" rx="0.8" fill="#9cc8ee" stroke="#64a3dc" stroke-width="1.2"/>
<text x="489.62" y="496.35" class="dl">0%</text>
<rect x="231.90" y="490.30" width="13.60" height="8.20" rx="1" fill="#fff" fill-opacity="0.7"/>
<rect x="233.10" y="491.50" width="11.20" height="5.80" rx="0.8" fill="#8a8a8a" stroke="#454545" stroke-width="1.2"/>
<text x="238.70" y="496.35" class="dl">0%</text>
<rect x="294.63" y="490.30" width="13.60" height="8.20" rx="1" fill="#fff" fill-opacity="0.7"/>
<rect x="295.83" y="491.50" width="11.20" height="5.80" rx="0.8" fill="#8a8a8a" stroke="#454545" stroke-width="1.2"/>
<text x="301.43" y="496.35" class="dl">0%</text>
<rect x="315.54" y="490.30" width="13.60" height="8.20" rx="1" fill="#fff" fill-opacity="0.7"/>
<rect x="316.74" y="491.50" width="11.20" height="5.80" rx="0.8" fill="#8a8a8a" stroke="#454545" stroke-width="1.2"/>
<text x="322.34" y="496.35" class="dl">0%</text>
<rect x="336.45" y="490.30" width="13.60" height="8.20" rx="1" fill="#fff" fill-opacity="0.7"/>
<rect x="337.65" y="491.50" width="11.20" height="5.80" rx="0.8" fill="#8a8a8a" stroke="#454545" stroke-width="1.2"/>
<text x="343.25" y="496.35" class="dl">0%</text>
<rect x="399.18" y="490.30" width="13.60" height="8.20" rx="1" fill="#fff" fill-opacity="0.7"/>
<rect x="400.38" y="491.50" width="11.20" height="5.80" rx="0.8" fill="#8a8a8a" stroke="#454545" stroke-width="1.2"/>
<text x="405.98" y="496.35" class="dl">0%</text>
<rect x="420.09" y="490.30" width="13.60" height="8.20" rx="1" fill="#fff" fill-opacity="0.7"/>
<rect x="421.29" y="491.50" width="11.20" height="5.80" rx="0.8" fill="#8a8a8a" stroke="#454545" stroke-width="1.2"/>
<text x="426.89" y="496.35" class="dl">0%</text>
<rect x="461.91" y="490.30" width="13.60" height="8.20" rx="1" fill="#fff" fill-opacity="0.7"/>
<rect x="463.11" y="491.50" width="11.20" height="5.80" rx="0.8" fill="#8a8a8a" stroke="#454545" stroke-width="1.2"/>
<text x="468.71" y="496.35" class="dl">0%</text>
<rect x="482.82" y="490.30" width="13.60" height="8.20" rx="1" fill="#fff" fill-opacity="0.7"/>
<rect x="484.02" y="491.50" width="11.20" height="5.80" rx="0.8" fill="#8a8a8a" stroke="#454545" stroke-width="1.2"/>
<text x="489.62" y="496.35" class="dl">0%</text>
</g><g clip-path="url(#cR)">
<rect x="525.90" y="352.30" width="243.43" height="14.19" fill="#f8f8f8"/>
<rect x="525.90" y="380.68" width="243.43" height="14.19" fill="#f8f8f8"/>
<rect x="525.90" y="409.06" width="243.43" height="14.19" fill="#f8f8f8"/>
<rect x="525.90" y="437.44" width="243.43" height="14.19" fill="#f8f8f8"/>
<rect x="525.90" y="465.82" width="243.43" height="14.19" fill="#f8f8f8"/>
<line x1="525.90" y1="352.30" x2="769.33" y2="352.30" stroke="#eeeeee" stroke-width="0.8"/>
<line x1="525.90" y1="366.49" x2="769.33" y2="366.49" stroke="#eeeeee" stroke-width="0.8"/>
<line x1="525.90" y1="380.68" x2="769.33" y2="380.68" stroke="#eeeeee" stroke-width="0.8"/>
<line x1="525.90" y1="394.87" x2="769.33" y2="394.87" stroke="#eeeeee" stroke-width="0.8"/>
<line x1="525.90" y1="409.06" x2="769.33" y2="409.06" stroke="#eeeeee" stroke-width="0.8"/>
<line x1="525.90" y1="423.25" x2="769.33" y2="423.25" stroke="#eeeeee" stroke-width="0.8"/>
<line x1="525.90" y1="437.44" x2="769.33" y2="437.44" stroke="#eeeeee" stroke-width="0.8"/>
<line x1="525.90" y1="451.63" x2="769.33" y2="451.63" stroke="#eeeeee" stroke-width="0.8"/>
<line x1="525.90" y1="465.82" x2="769.33" y2="465.82" stroke="#eeeeee" stroke-width="0.8"/>
<line x1="525.90" y1="480.01" x2="769.33" y2="480.01" stroke="#eeeeee" stroke-width="0.8"/>
<line x1="525.90" y1="494.20" x2="769.33" y2="494.20" stroke="#eeeeee" stroke-width="0.8"/>
<text transform="translate(521.70 354.60) scale(0.72 1)" class="yl">7.0</text>
<text transform="translate(521.70 368.79) scale(0.72 1)" class="yl">6.5</text>
<text transform="translate(521.70 382.98) scale(0.72 1)" class="yl">6.0</text>
<text transform="translate(521.70 397.17) scale(0.72 1)" class="yl">5.5</text>
<text transform="translate(521.70 411.36) scale(0.72 1)" class="yl">5.0</text>
<text transform="translate(521.70 425.55) scale(0.72 1)" class="yl">4.5</text>
<text transform="translate(521.70 439.74) scale(0.72 1)" class="yl">4.0</text>
<text transform="translate(521.70 453.93) scale(0.72 1)" class="yl">3.5</text>
<text transform="translate(521.70 468.12) scale(0.72 1)" class="yl">3.0</text>
<text transform="translate(521.70 482.31) scale(0.72 1)" class="yl">2.5</text>
<text transform="translate(521.70 496.50) scale(0.72 1)" class="yl">2.0</text>
<text x="525.90" y="506.80" class="xl">Apr</text>
<text x="548.03" y="506.80" class="xl">Aug</text>
<text x="570.16" y="506.80" class="xl">Dec</text>
<text x="592.29" y="506.80" class="xl">Feb</text>
<text x="614.42" y="506.80" class="xl">Jan</text>
<text x="636.55" y="506.80" class="xl">Jul</text>
<text x="658.68" y="506.80" class="xl">Jun</text>
<text x="680.81" y="506.80" class="xl">Mar</text>
<text x="702.94" y="506.80" class="xl">May</text>
<text x="725.07" y="506.80" class="xl">Nov</text>
<text x="747.20" y="506.80" class="xl">Oct</text>
<text x="769.33" y="506.80" class="xl">Sep</text>
<path d="M525.90 499.20 H769.33" stroke="#e8e8e8" stroke-width="0.8" fill="none"/>
<g filter="url(#sh)"><path d="M525.90 494.20 C533.65 494.20 540.28 485.69 548.03 485.69 C555.78 485.69 562.41 482.85 570.16 482.85 C577.91 482.85 584.54 485.69 592.29 485.69 C600.04 485.69 606.67 482.85 614.42 482.85 C622.17 482.85 628.80 485.69 636.55 485.69 C644.30 485.69 650.93 482.85 658.68 482.85 C666.43 482.85 673.06 482.85 680.81 482.85 C688.56 482.85 695.19 482.85 702.94 482.85 C710.69 482.85 717.32 485.69 725.07 485.69 C732.82 485.69 739.45 482.85 747.20 482.85 C754.95 482.85 761.58 352.30 769.33 352.30" stroke="#84b9e5" stroke-width="2.3" fill="none" stroke-linecap="round"/></g>
<path d="M525.90 494.20 C533.65 494.20 540.28 485.69 548.03 485.69 C555.78 485.69 562.41 482.85 570.16 482.85 C577.91 482.85 584.54 485.69 592.29 485.69 C600.04 485.69 606.67 482.85 614.42 482.85 C622.17 482.85 628.80 485.69 636.55 485.69 C644.30 485.69 650.93 482.85 658.68 482.85 C666.43 482.85 673.06 482.85 680.81 482.85 C688.56 482.85 695.19 482.85 702.94 482.85 C710.69 482.85 717.32 485.69 725.07 485.69 C732.82 485.69 739.45 482.85 747.20 482.85 C754.95 482.85 761.58 352.30 769.33 352.30" stroke="#fff" stroke-opacity="0.5" stroke-width="4.2" fill="none" stroke-linecap="round"/>
<path d="M525.90 494.20 C533.65 494.20 540.28 485.69 548.03 485.69 C555.78 485.69 562.41 482.85 570.16 482.85 C577.91 482.85 584.54 485.69 592.29 485.69 C600.04 485.69 606.67 482.85 614.42 482.85 C622.17 482.85 628.80 485.69 636.55 485.69 C644.30 485.69 650.93 482.85 658.68 482.85 C666.43 482.85 673.06 482.85 680.81 482.85 C688.56 482.85 695.19 482.85 702.94 482.85 C710.69 482.85 717.32 485.69 725.07 485.69 C732.82 485.69 739.45 482.85 747.20 482.85 C754.95 482.85 761.58 352.30 769.33 352.30" stroke="#84b9e5" stroke-width="2.6" fill="none" stroke-linecap="round"/>
<rect x="521.50" y="489.50" width="8.80" height="8.20" rx="1" fill="#fff" fill-opacity="0.7"/>
<rect x="522.70" y="490.70" width="6.40" height="5.80" rx="0.8" fill="#9cc8ee" stroke="#64a3dc" stroke-width="1.2"/>
<text x="525.90" y="495.55" class="dl">2</text>
<rect x="541.38" y="480.99" width="13.31" height="8.20" rx="1" fill="#fff" fill-opacity="0.7"/>
<rect x="542.58" y="482.19" width="10.91" height="5.80" rx="0.8" fill="#9cc8ee" stroke="#64a3dc" stroke-width="1.2"/>
<text x="548.03" y="487.04" class="dl">2.3</text>
<rect x="563.51" y="478.15" width="13.31" height="8.20" rx="1" fill="#fff" fill-opacity="0.7"/>
<rect x="564.71" y="479.35" width="10.91" height="5.80" rx="0.8" fill="#9cc8ee" stroke="#64a3dc" stroke-width="1.2"/>
<text x="570.16" y="484.20" class="dl">2.4</text>
<rect x="585.64" y="480.99" width="13.31" height="8.20" rx="1" fill="#fff" fill-opacity="0.7"/>
<rect x="586.84" y="482.19" width="10.91" height="5.80" rx="0.8" fill="#9cc8ee" stroke="#64a3dc" stroke-width="1.2"/>
<text x="592.29" y="487.04" class="dl">2.3</text>
<rect x="607.77" y="478.15" width="13.31" height="8.20" rx="1" fill="#fff" fill-opacity="0.7"/>
<rect x="608.97" y="479.35" width="10.91" height="5.80" rx="0.8" fill="#9cc8ee" stroke="#64a3dc" stroke-width="1.2"/>
<text x="614.42" y="484.20" class="dl">2.4</text>
<rect x="629.90" y="480.99" width="13.31" height="8.20" rx="1" fill="#fff" fill-opacity="0.7"/>
<rect x="631.10" y="482.19" width="10.91" height="5.80" rx="0.8" fill="#9cc8ee" stroke="#64a3dc" stroke-width="1.2"/>
<text x="636.55" y="487.04" class="dl">2.3</text>
<rect x="652.03" y="478.15" width="13.31" height="8.20" rx="1" fill="#fff" fill-opacity="0.7"/>
<rect x="653.23" y="479.35" width="10.91" height="5.80" rx="0.8" fill="#9cc8ee" stroke="#64a3dc" stroke-width="1.2"/>
<text x="658.68" y="484.20" class="dl">2.4</text>
<rect x="674.16" y="478.15" width="13.31" height="8.20" rx="1" fill="#fff" fill-opacity="0.7"/>
<rect x="675.36" y="479.35" width="10.91" height="5.80" rx="0.8" fill="#9cc8ee" stroke="#64a3dc" stroke-width="1.2"/>
<text x="680.81" y="484.20" class="dl">2.4</text>
<rect x="696.29" y="478.15" width="13.31" height="8.20" rx="1" fill="#fff" fill-opacity="0.7"/>
<rect x="697.49" y="479.35" width="10.91" height="5.80" rx="0.8" fill="#9cc8ee" stroke="#64a3dc" stroke-width="1.2"/>
<text x="702.94" y="484.20" class="dl">2.4</text>
<rect x="718.42" y="480.99" width="13.31" height="8.20" rx="1" fill="#fff" fill-opacity="0.7"/>
<rect x="719.62" y="482.19" width="10.91" height="5.80" rx="0.8" fill="#9cc8ee" stroke="#64a3dc" stroke-width="1.2"/>
<text x="725.07" y="487.04" class="dl">2.3</text>
<rect x="740.55" y="478.15" width="13.31" height="8.20" rx="1" fill="#fff" fill-opacity="0.7"/>
<rect x="741.75" y="479.35" width="10.91" height="5.80" rx="0.8" fill="#9cc8ee" stroke="#64a3dc" stroke-width="1.2"/>
<text x="747.20" y="484.20" class="dl">2.4</text>
<rect x="764.93" y="347.60" width="8.80" height="8.20" rx="1" fill="#fff" fill-opacity="0.7"/>
<rect x="766.13" y="348.80" width="6.40" height="5.80" rx="0.8" fill="#9cc8ee" stroke="#64a3dc" stroke-width="1.2"/>
<text x="769.33" y="353.65" class="dl">7</text>
</g>
</g>
</svg>
</body></html>
